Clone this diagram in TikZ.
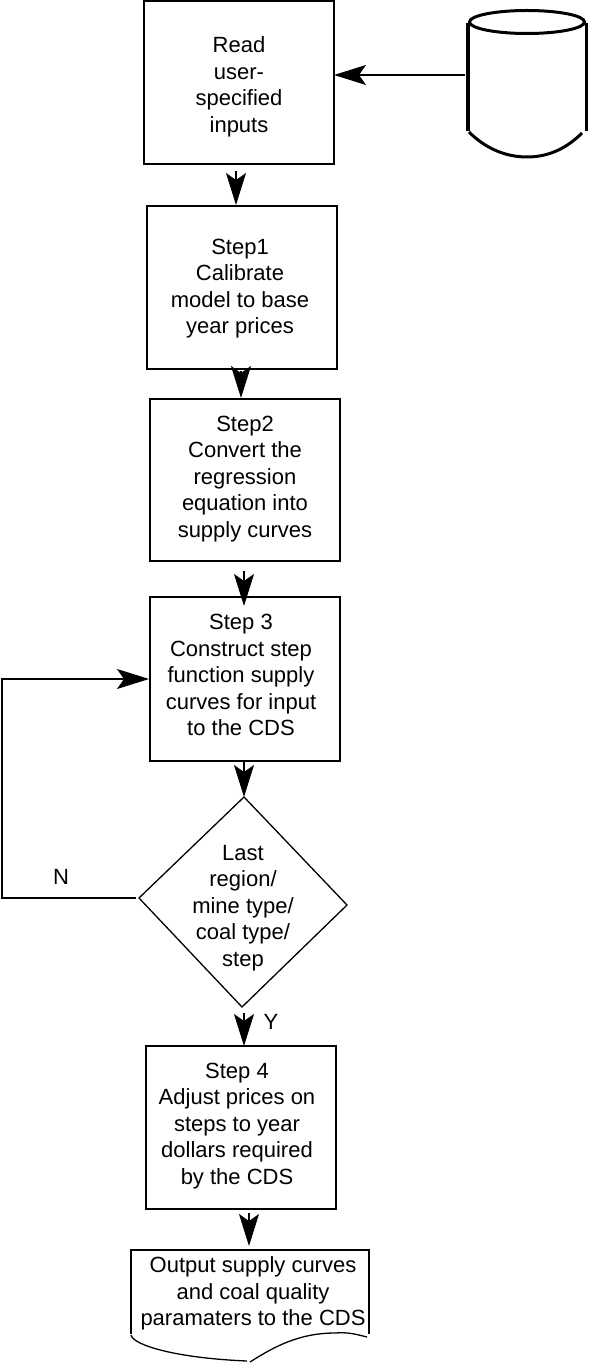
\documentclass[tikz,border=0pt]{standalone}
\usepackage{fontspec}
\setmainfont{Liberation Sans}
\usetikzlibrary{arrows.meta}
\newcommand\txtlines[3]{\kern#1pt\begin{tabular}{@{}c@{}}\noalign{\vskip#2pt}#3\end{tabular}}
\tikzset{
  every node/.style={font=\fontsize{22}{26.5}\selectfont},
  stepbox/.style={draw=black,line width=1.4pt,fill=white,minimum width=190pt,inner sep=0pt,outer sep=0pt},
  flow/.style={draw=black,line width=1.2pt,-{Stealth[length=32pt,width=20pt,inset=7pt]}},
  plainline/.style={draw=black,line width=1.3pt},
  heavy/.style={draw=black,line width=3pt},
  lbl/.style={anchor=base,inner sep=0pt}
}
\begin{document}
\begin{tikzpicture}[x=1pt,y=-1pt]
\useasboundingbox (0,0) rectangle (589,1364);
% boxes
\node[stepbox,minimum height=163pt] (read) at (239,82.5) {\txtlines{0}{9.4}{Read\\user-\\specified\\inputs}};
\node[stepbox,minimum height=163pt] (step1) at (242,287.5) {\txtlines{-4}{2.4}{Step1\\Calibrate\\model to base\\year prices}};
\node[stepbox,minimum height=162pt] (step2) at (245,480) {\txtlines{0}{-2.6}{Step2\\Convert the\\regression\\equation into\\supply curves}};
\node[stepbox,minimum height=164pt] (step3) at (245,679) {\txtlines{-8}{-3.6}{Step 3\\Construct step\\function supply\\curves for input\\to the CDS}};
\node[stepbox,minimum height=163pt] (step4) at (241,1127.5) {\txtlines{-8}{-3.6}{Step 4\\Adjust prices on\\steps to year\\dollars required\\by the CDS}};
% decision
\coordinate (dtop) at (244,797);
\coordinate (dleft) at (139,898);
\coordinate (dright) at (347,905);
\coordinate (dbot) at (242,1007);
\draw[plainline,fill=white] (dtop) -- (dright) -- (dbot) -- (dleft) -- cycle;
\node[inner sep=0pt] (dec) at (243,907.7) {\txtlines{0}{0}{Last\\region/\\mine type/\\coal type/\\step}};
% document
\node[minimum width=238pt,minimum height=84pt,inner sep=0pt,outer sep=0pt] (doc) at (250,1292) {\txtlines{6}{3.4}{Output supply curves\\and coal quality\\paramaters to the CDS}};
\draw[plainline] (131,1334) -- (131,1250) -- (369,1250) -- (369,1334);
\draw[plainline] (131,1335) .. controls (133,1345) and (175,1358) .. (247,1361);
\draw[plainline] (250,1362) .. controls (275,1346) and (300,1333) .. (335,1333) .. controls (348,1332) and (355,1334) .. (367,1337);
% data store
\node[minimum width=118pt,minimum height=148pt,inner sep=0pt,outer sep=0pt] (db) at (527,83) {};
\draw[heavy] (527,22) ellipse [x radius=57.5pt,y radius=11.5pt];
\draw[draw=black,line width=3.6pt] (468,23) -- (468,131);
\draw[heavy] (586,23) -- (586,131);
\draw[heavy] (469,132) .. controls (485,148) and (505,157) .. (527,157) .. controls (549,157) and (567,148) .. (582,133);
% connectors
\draw[flow,shorten <=7pt,shorten >=1pt] ([xshift=-3pt]read.south) -- ([xshift=-6pt]step1.north);
\draw[flow,shorten <=2pt,shorten >=1pt] ([xshift=-1pt]step1.south) -- ([xshift=-4pt]step2.north);
\draw[flow,shorten <=10pt,shorten >=-9pt] ([xshift=-1pt]step2.south) -- ([xshift=-1pt]step3.north);
\draw[flow,shorten <=1pt] ([xshift=-1pt]step3.south) -- (dtop);
\draw[flow,shorten <=6pt] ([xshift=2pt]dbot) -- ([xshift=3pt]step4.north);
\draw[flow,shorten <=4pt,shorten >=4pt] ([xshift=8pt]step4.south) -- ([xshift=-1pt]doc.north);
\draw[flow,shorten <=3pt] ([yshift=8pt]db.west) -- ([yshift=7.5pt]read.east);
\coordinate (loopc) at (2,898);
\draw[flow,shorten <=3pt,shorten >=1pt] (dleft) -- (loopc) |- (step3.west);
% labels
\node[lbl] (nlabel) at (61,884) {N};
\node[lbl] (ylabel) at (271,1029) {Y};
\end{tikzpicture}
\end{document}
